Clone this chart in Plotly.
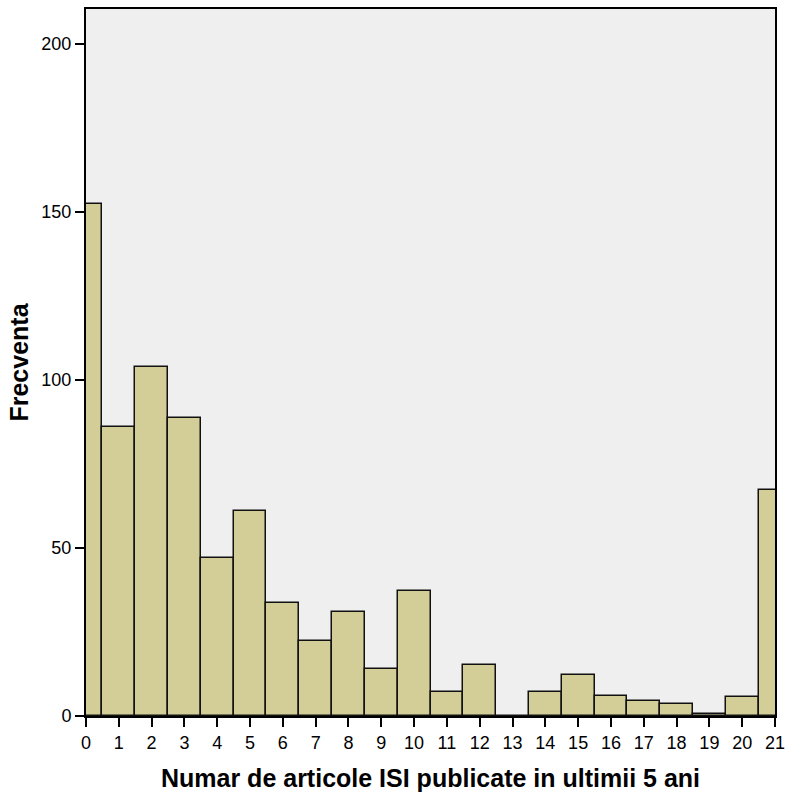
import plotly.graph_objects as go

# Data
bins = list(range(0, 22))
freq = [152.4, 86.1, 103.8, 88.8, 47.1, 60.9, 33.7, 22.4, 31.0, 13.9, 37.2,
        7.2, 15.1, 0, 7.0, 12.3, 5.9, 4.4, 3.5, 0.7, 5.6, 67.3]
x_ticks = list(range(0, 22))
y_ticks = [0, 50, 100, 150, 200]

x_title = "Numar de articole ISI publicate in ultimii 5 ani"
y_title = "Frecventa"

fig = go.Figure(go.Bar(
    x=bins, y=freq, width=1,
    marker=dict(color="#D3CE97", line=dict(color="#111111", width=1.5)),
    hoverinfo="x+y",
))

font_family = "Liberation Sans, Arial, sans-serif"
fig.update_layout(
    width=792, height=800,
    autosize=False,
    margin=dict(l=86, r=11, t=7, b=84),
    paper_bgcolor="white",
    plot_bgcolor="#EFEFEF",
    showlegend=False,
    bargap=0,
    font=dict(family=font_family, size=18, color="black"),
)
fig.update_xaxes(
    range=[0, 21], tickmode="array", tickvals=x_ticks,
    ticktext=[str(t) for t in x_ticks],
    showgrid=False, zeroline=False,
    showline=True, linecolor="black", linewidth=2, mirror=True,
    ticks="outside", ticklen=9, tickwidth=2, tickcolor="black",
    tickfont=dict(size=18), ticklabeloverflow="allow",
    title=dict(text="<b>" + x_title + "</b>", font=dict(size=25), standoff=18),
)
fig.update_yaxes(
    range=[0, 210.4], tickmode="array", tickvals=y_ticks,
    showgrid=False, zeroline=False,
    showline=True, linecolor="black", linewidth=2, mirror=True,
    ticks="outside", ticklen=9, tickwidth=2, tickcolor="black",
    tickfont=dict(size=18),
    title=dict(text="<b>" + y_title + "</b>", font=dict(size=25), standoff=6),
)

fig.write_html(
    "out.html",
    config={"displayModeBar": False, "responsive": False},
    post_script="document.body.style.margin='0';document.body.style.overflow='hidden';",
)
